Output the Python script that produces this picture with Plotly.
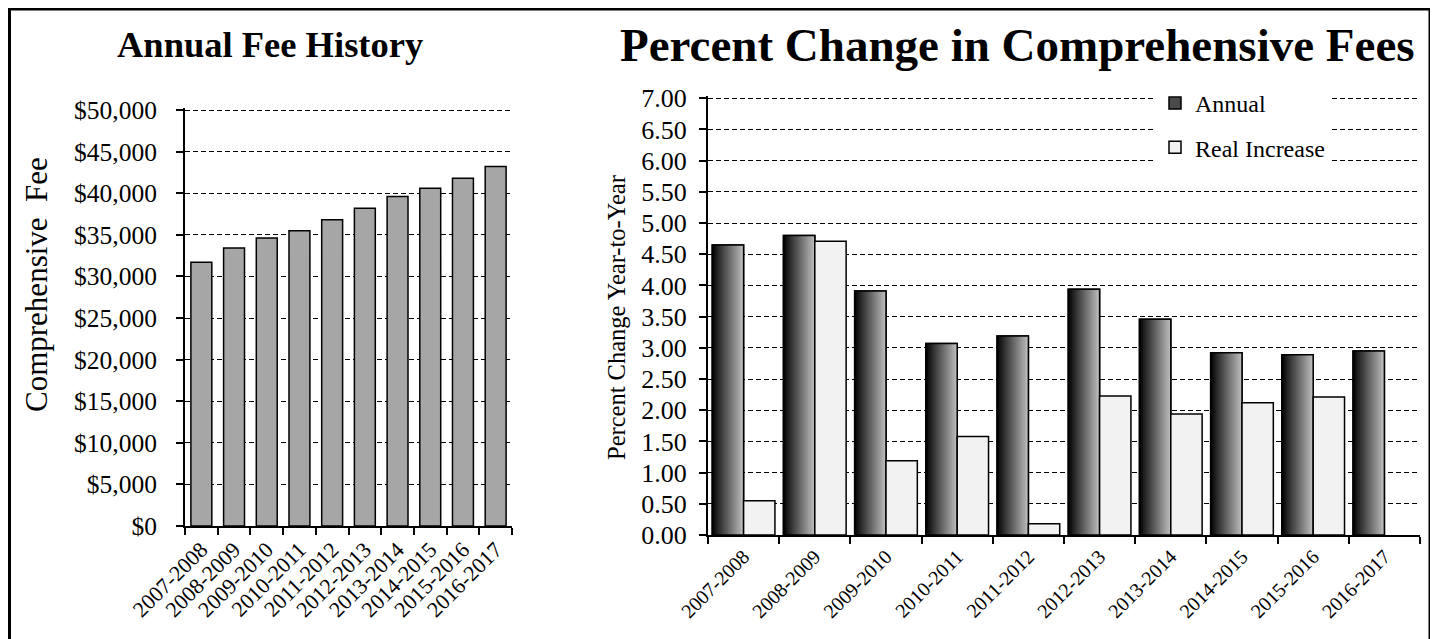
import plotly.graph_objects as go

# ---------------- data ----------------
years = ["2007-2008", "2008-2009", "2009-2010", "2010-2011", "2011-2012",
         "2012-2013", "2013-2014", "2014-2015", "2015-2016", "2016-2017"]
comprehensive_fee = [31700, 33400, 34600, 35500, 36800, 38200, 39600, 40600, 41800, 43200]
annual_pct = [4.65, 4.80, 3.91, 3.07, 3.19, 3.94, 3.46, 2.92, 2.89, 2.95]
real_pct = [0.55, 4.71, 1.19, 1.58, 0.18, 2.23, 1.94, 2.12, 2.21, None]

W, H = 1438, 639
OX, OY = 8, 8  # page offset of the plot div
FONT = "Liberation Serif, Times New Roman, serif"

def px_x(p):
    return (p - OX) / W

def px_y(p):
    return 1 - (p - OY) / H

# axis extents (pixel positions of min / max tick) and a small pad so the top gridline shows
L_BOT, L_TOP, L_MAX, L_PAD = 526, 110, 50000, 300
R_BOT, R_TOP, R_MAX, R_PAD = 535, 98.3, 7.0, 0.04
l_top_px = L_TOP - L_PAD * (L_BOT - L_TOP) / L_MAX
r_top_px = R_TOP - R_PAD * (R_BOT - R_TOP) / R_MAX

fig = go.Figure()

# ---------------- left chart ----------------
fig.add_trace(go.Bar(
    x=years, y=comprehensive_fee, xaxis="x", yaxis="y",
    width=0.64, marker=dict(color="#a6a6a6", line=dict(color="black", width=1.5)),
    showlegend=False, hoverinfo="x+y"))

# ---------------- right chart ----------------
ann_off, ann_w = -0.44, 0.44
real_off, real_w = 0.0, 0.44

# legend entry + base fill for the annual bars
fig.add_trace(go.Bar(
    x=years, y=annual_pct, xaxis="x2", yaxis="y2", name="Annual",
    offset=ann_off, width=ann_w, legendgroup="a",
    marker=dict(color="#4a4a4a", line=dict(color="black", width=1.5))))

# horizontal gradient slices for the annual bars
N = 18
step = ann_w / N
for i in range(N):
    t = i / (N - 1)
    g = int(round(5 + 180 * t ** 0.95))
    fig.add_trace(go.Bar(
        x=years, y=annual_pct, xaxis="x2", yaxis="y2", legendgroup="a",
        offset=ann_off + i * step, width=min(step * 1.6, ann_w - i * step),
        marker=dict(color=f"rgb({g},{g},{g})", line=dict(width=0)),
        showlegend=False, hoverinfo="skip"))

# outline on top
fig.add_trace(go.Bar(
    x=years, y=annual_pct, xaxis="x2", yaxis="y2", legendgroup="a",
    offset=ann_off, width=ann_w,
    marker=dict(color="rgba(0,0,0,0)", line=dict(color="black", width=1.5)),
    showlegend=False, hoverinfo="skip"))

fig.add_trace(go.Bar(
    x=years, y=real_pct, xaxis="x2", yaxis="y2", name="Real Increase",
    offset=real_off, width=real_w, legendgroup="b",
    marker=dict(color="#f2f2f2", line=dict(color="black", width=1.5))))

grid = dict(showgrid=True, gridcolor="black", gridwidth=1, griddash="5px,3px")

fig.update_layout(
    width=W, height=H,
    margin=dict(l=0, r=0, t=0, b=0, autoexpand=False),
    paper_bgcolor="white", plot_bgcolor="white",
    barmode="overlay",
    font=dict(family=FONT, color="black"),
    showlegend=True,
    legend=dict(x=px_x(1155), y=px_y(81), xanchor="left", yanchor="top",
                bgcolor="white", borderwidth=0, font=dict(size=24, family=FONT),
                tracegroupgap=10, traceorder="grouped"),
    xaxis=dict(domain=[px_x(185), px_x(512)], anchor="y", type="category", automargin=False,
               range=[-0.5, 9.5], showline=True, linecolor="black", linewidth=2,
               ticks="outside", tickson="boundaries", ticklen=7, tickcolor="black", tickwidth=2,
               tickangle=-45, tickfont=dict(size=22, family=FONT), showgrid=False),
    yaxis=dict(domain=[px_y(L_BOT), px_y(l_top_px)], anchor="x", range=[0, L_MAX + L_PAD],
               automargin=False, tick0=0, dtick=5000, tickprefix="$", tickformat=",d",
               showline=True, linecolor="black", linewidth=2,
               ticks="outside", ticklen=7, tickcolor="black", tickwidth=2,
               ticklabelstandoff=14, tickfont=dict(size=25.5, family=FONT),
               zeroline=False, **grid),
    xaxis2=dict(domain=[px_x(708), px_x(1420)], anchor="y2", type="category", automargin=False,
                range=[-0.5, 9.5], showline=True, linecolor="black", linewidth=2,
                ticks="outside", tickson="boundaries", ticklen=7, tickcolor="black", tickwidth=2,
                tickangle=-45, tickfont=dict(size=20, family=FONT), showgrid=False),
    yaxis2=dict(domain=[px_y(R_BOT), px_y(r_top_px)], anchor="x2", range=[0, R_MAX + R_PAD],
                automargin=False, tick0=0, dtick=0.5, tickformat=".2f",
                showline=True, linecolor="black", linewidth=2,
                ticks="outside", ticklen=7, tickcolor="black", tickwidth=2,
                ticklabelstandoff=7, tickfont=dict(size=26, family=FONT),
                zeroline=False, **grid),
    shapes=[dict(type="rect", xref="paper", yref="paper",
                 x0=1.5 / W, x1=px_x(1430), y0=-0.1, y1=px_y(9),
                 line=dict(color="black", width=3), fillcolor="rgba(0,0,0,0)", layer="above")],
    annotations=[
        dict(text="<b>Annual Fee History</b>", xref="paper", yref="paper",
             x=px_x(270), y=px_y(45), showarrow=False,
             font=dict(size=36.5, family=FONT), xanchor="center", yanchor="middle"),
        dict(text="<b>Percent Change in Comprehensive Fees</b>", xref="paper", yref="paper",
             x=px_x(1017), y=px_y(45), showarrow=False,
             font=dict(size=47, family=FONT), xanchor="center", yanchor="middle"),
        dict(text="Comprehensive\u00a0\u00a0Fee", xref="paper", yref="paper",
             x=px_x(36), y=px_y(285), showarrow=False, textangle=-90,
             font=dict(size=31, family=FONT), xanchor="center", yanchor="middle"),
        dict(text="Percent Change Year-to-Year", xref="paper", yref="paper",
             x=px_x(616), y=px_y(318), showarrow=False, textangle=-90,
             font=dict(size=24.5, family=FONT), xanchor="center", yanchor="middle"),
    ],
)

fig.write_html("out.html")
